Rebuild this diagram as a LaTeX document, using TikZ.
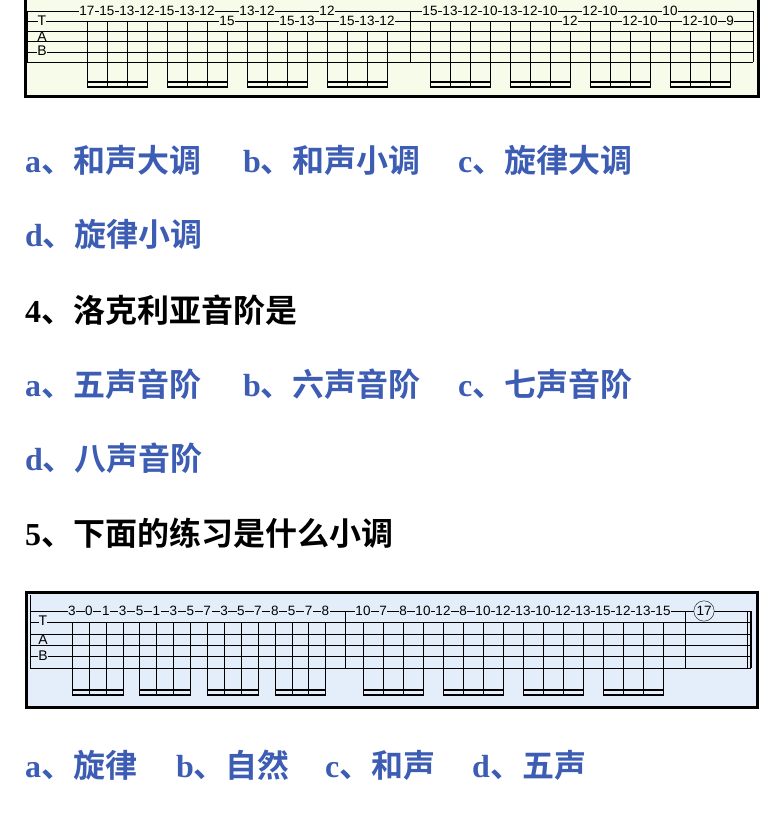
\documentclass[tikz,border=0pt]{standalone}
\usepackage{fontspec}
\setmainfont{Liberation Serif}
\newfontfamily\cjk{Noto Sans CJK SC}[BoldFont={Noto Sans CJK SC Bold}]
\newfontfamily\tabf{Liberation Sans}
\definecolor{qblue}{HTML}{3C5DB3}
\definecolor{tgreen}{HTML}{F6FBEA}
\definecolor{tblue}{HTML}{E4EEFB}
\newcommand{\opt}[2]{\bfseries #1{\cjk\bfseries 、#2}}
\tikzset{
 txt/.style={anchor=west,inner sep=0pt,font=\fontsize{32}{32}\selectfont},
 blu/.style={txt,text=qblue},
 num/.style={inner sep=0.6pt,font=\tabf\fontsize{13.5}{13.5}\selectfont},
 tabl/.style={inner sep=0pt,font=\tabf\fontsize{14}{14}\selectfont},
 beam/.style={line width=2.2pt},
 frame/.style={line width=3pt}
}
\begin{document}
\begin{tikzpicture}[x=1pt,y=-1pt]
\useasboundingbox (0,0) rectangle (783,822);
\fill[white] (0,0) rectangle (783,822);
% ---------- top tab ----------
\draw[frame,fill=tgreen] (25,-5) rectangle (758,96);
\foreach \k in {0,...,5} \draw[line width=0.6pt] (27,11+10.2*\k) -- (753,11+10.2*\k);
\draw (27,11) -- (27,62);
\draw (410,11) -- (410,62);
\draw (753,11) -- (753,62);
\foreach \l/\y in {T/21,A/36.5,B/51} \node[tabl,fill=tgreen] (t\l) at (42,\y) {\l};
\foreach \n/\s [count=\i from 0] in {17/1,15/1,13/1,12/1,15/1,13/1,12/1,15/2,13/1,12/1,15/2,13/2,12/1,15/2,13/2,12/2}{
  \pgfmathsetmacro\xx{87+20*\i}
  \draw (\xx,11+10.2*\s) -- (\xx,88);
  \node[num,fill=tgreen] (ta\i) at (\xx,11+10.2*\s-10.2) {\n};
}
\foreach \n/\s [count=\i from 0] in {15/1,13/1,12/1,10/1,13/1,12/1,10/1,12/2,12/1,10/1,12/2,10/2,10/1,12/2,10/2,9/2}{
  \pgfmathsetmacro\xx{430+20*\i}
  \draw (\xx,11+10.2*\s) -- (\xx,88);
  \node[num,fill=tgreen] (tb\i) at (\xx,11+10.2*\s-10.2) {\n};
}
\foreach \a in {87,167,247,327,430,510,590,670}{
  \draw[beam] (\a,82) -- (\a+60,82);
  \draw[beam] (\a,87) -- (\a+60,87);
}
% ---------- text ----------
\node[blu] (q3a) at (25,160) {\opt{a}{和声大调}};
\node[blu] (q3b) at (243,160) {\opt{b}{和声小调}};
\node[blu] (q3c) at (458,160) {\opt{c}{旋律大调}};
\node[blu] (q3d) at (25,234) {\opt{d}{旋律小调}};
\node[txt] (q4) at (25,310) {\opt{4}{洛克利亚音阶是}};
\node[blu] (q4a) at (25,384) {\opt{a}{五声音阶}};
\node[blu] (q4b) at (243,384) {\opt{b}{六声音阶}};
\node[blu] (q4c) at (458,384) {\opt{c}{七声音阶}};
\node[blu] (q4d) at (25,458) {\opt{d}{八声音阶}};
\node[txt] (q5) at (25,533) {\opt{5}{下面的练习是什么小调}};
\node[blu] (q5a) at (25,765) {\opt{a}{旋律}};
\node[blu] (q5b) at (176,765) {\opt{b}{自然}};
\node[blu] (q5c) at (325,765) {\opt{c}{和声}};
\node[blu] (q5d) at (472,765) {\opt{d}{五声}};
% ---------- bottom tab ----------
\draw[frame,fill=tblue] (26,592) rectangle (757,707);
\foreach \k in {0,...,5} \draw[line width=0.6pt] (30,611+11.4*\k) -- (751,611+11.4*\k);
\draw (30,595) -- (30,668);
\draw (345,611) -- (345,668);
\draw (685,611) -- (685,668);
\draw (747,611) -- (747,668);
\draw[line width=2.2pt] (751,611) -- (751,668);
\foreach \l/\y in {T/621,A/640,B/656} \node[tabl,fill=tblue] (b\l) at (43,\y) {\l};
\foreach \n [count=\i from 0] in {3,0,1,3,5,1,3,5,7,3,5,7,8,5,7,8}{
  \pgfmathsetmacro\xx{72+16.9*\i}
  \draw (\xx,622.4) -- (\xx,696);
  \node[num,fill=tblue] (ba\i) at (\xx,611) {\n};
}
\foreach \n [count=\i from 0] in {10,7,8,10,12,8,10,12,13,10,12,13,15,12,13,15}{
  \pgfmathsetmacro\xx{363+20*\i}
  \draw (\xx,622.4) -- (\xx,696);
  \node[num,fill=tblue] (bb\i) at (\xx,611) {\n};
}
\foreach \a/\w in {72/50.7,139.6/50.7,207.2/50.7,274.8/50.7,363/60,443/60,523/60,603/60}{
  \draw[beam] (\a,690) -- (\a+\w,690);
  \draw[beam] (\a,695) -- (\a+\w,695);
}
\node[num,draw,circle,fill=tblue,inner sep=1pt] (b17) at (704,611) {17};
\end{tikzpicture}
\end{document}
